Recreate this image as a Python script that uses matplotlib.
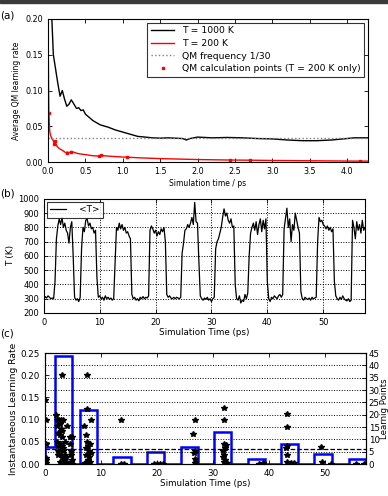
import numpy as np
import matplotlib
matplotlib.use("Agg")
import matplotlib.pyplot as plt
from matplotlib.patches import Rectangle

# ---- (a) average QM learning rate ----
t_hot = [0.02, 0.05, 0.07, 0.10, 0.13, 0.16, 0.19, 0.22, 0.25, 0.28, 0.31, 0.34, 0.38, 0.41,
         0.44, 0.47, 0.50, 0.60, 0.70, 0.80, 0.90, 1.00, 1.10, 1.20, 1.30, 1.40, 1.50, 1.60,
         1.70, 1.80, 1.85, 1.90, 2.00, 2.10, 2.20, 2.40, 2.60, 2.80, 3.00, 3.20, 3.40, 3.60,
         3.80, 3.90, 4.00, 4.10, 4.28]
rate_hot = [0.35, 0.20, 0.15, 0.13, 0.11, 0.092, 0.100, 0.088, 0.078, 0.081, 0.087, 0.082, 0.075, 0.076,
            0.072, 0.073, 0.067, 0.058, 0.052, 0.049, 0.045, 0.042, 0.039, 0.036, 0.035, 0.034, 0.0335, 0.034,
            0.0335, 0.033, 0.031, 0.033, 0.035, 0.0345, 0.034, 0.0345, 0.034, 0.033, 0.0325, 0.031, 0.030, 0.030,
            0.031, 0.032, 0.033, 0.034, 0.034]

t_cold = [0.0, 0.005, 0.01, 0.02, 0.03, 0.05, 0.07, 0.085, 0.09, 0.12, 0.15, 0.20, 0.24, 0.25,
          0.30, 0.31, 0.40, 0.50, 0.60, 0.68, 0.70, 0.80, 1.00, 1.06, 1.20, 1.50, 2.00, 2.43,
          2.70, 3.00, 3.50, 4.00, 4.18, 4.28]
rate_cold = [0.2, 0.12, 0.07, 0.045, 0.038, 0.033, 0.030, 0.025, 0.029, 0.022, 0.019, 0.016, 0.013, 0.014,
             0.0135, 0.015, 0.012, 0.0105, 0.009, 0.0085, 0.0095, 0.0085, 0.0072, 0.007, 0.0062, 0.005, 0.0037, 0.003,
             0.0028, 0.0024, 0.002, 0.0016, 0.0015, 0.0015]

qm_t = [0.01, 0.085, 0.09, 0.25, 0.31, 0.68, 0.71, 1.06, 2.43, 2.70, 4.18]
qm_rate = [0.069, 0.025, 0.029, 0.013, 0.014, 0.0085, 0.0095, 0.007, 0.003, 0.0028, 0.0015]

qm_freq = 1 / 30.

# ---- (b) temperature trace, sampled every 0.25 ps ----
dt = 0.25
temp = [290, 315, 305, 320, 310, 300, 305, 300,
        420, 720, 810, 860, 820, 870, 800, 830, 780, 760, 690, 800, 840, 600,
        310, 290, 300, 280, 310,
        650, 800, 770, 850, 860, 810, 830, 790, 800, 760, 780,
        450, 310, 320, 300, 310, 290, 320, 300, 310, 295, 305, 290, 300,
        560, 800, 780, 830, 790, 820, 780, 800, 760, 770, 740, 720,
        330, 300, 310, 290, 300, 285, 310, 300, 315, 300, 310, 305, 320,
        780, 810, 790, 760, 780, 740, 770, 750, 790, 770, 800, 700,
        330, 310, 320, 305, 300, 310, 300, 310, 305, 300, 310,
        620, 690, 780, 790, 820, 800, 830, 870, 820, 975, 840, 830, 560,
        320, 300, 290, 305, 295, 310, 290, 300, 280, 300, 310,
        650, 700, 720, 760, 800, 870, 930, 880, 900, 850, 830, 860, 800, 810,
        400, 300, 290, 320, 270, 290, 280, 330, 300, 340,
        600, 760, 800, 830, 780, 840, 750, 820, 860, 770, 850, 790, 860,
        420, 300, 280, 310, 300, 320, 310, 300, 320, 330, 310, 330,
        790, 860, 935, 800, 860, 700, 820, 780, 900, 850, 800, 760,
        350, 300, 290, 310, 300, 295, 305, 290, 310, 300, 305, 310,
        700, 870, 840, 850, 820, 810, 790, 810, 780, 800, 770, 790,
        420, 320, 300, 290, 310, 295, 320, 300, 290, 285, 300, 280, 290,
        850, 800, 720, 840, 780, 820, 760, 850, 780, 800]
time_b = np.arange(len(temp)) * dt

# ---- (c) instantaneous learning rate and learning points per interval ----
star_t = [0.0, 0.1, 0.1, 0.1, 0.2, 0.2,
          2.0, 2.1, 2.2, 2.3, 2.2, 2.4, 2.5, 2.3, 2.6, 2.7, 2.8, 2.9, 3.0, 3.1, 3.2, 3.3, 2.9, 3.4,
          3.5, 3.6, 2.6, 2.8, 3.0, 3.3, 3.6, 3.1, 2.4, 2.7, 3.2, 3.5, 4.0, 4.4, 4.5, 4.6, 4.7, 4.8,
          4.8, 4.6, 4.9, 3.8, 3.9, 3.1,
          7.5, 7.0, 7.3, 7.5, 7.7, 8.0, 7.8, 7.3, 7.6, 8.1, 7.2, 7.4, 7.9, 8.2, 7.0, 7.6, 7.5,
          7.5, 8.2, 13.6, 13.6, 14.1, 19.5, 20.0, 20.5, 21.0,
          26.5, 26.7, 26.6, 26.7, 26.8, 26.7, 31.9, 31.9, 32.0, 32.3, 31.8, 32.0, 32.2, 31.9, 32.5,
          32.1, 31.7, 38.2, 39.0, 43.3, 43.3, 43.2, 43.1, 43.3, 43.2, 44.0, 44.5,
          49.2, 49.5, 51.0, 55.5, 57.0]
star_rate = [0.145, 0.10, 0.045, 0.013, 0.008, 0.002,
             0.11, 0.10, 0.085, 0.07, 0.05, 0.04, 0.10, 0.03, 0.095, 0.09, 0.10, 0.08, 0.06, 0.04, 0.10, 0.03, 0.02, 0.01,
             0.005, 0.02, 0.065, 0.045, 0.015, 0.035, 0.0, 0.075, 0.02, 0.005, 0.002, 0.05, 0.085, 0.06, 0.045, 0.03, 0.02, 0.01,
             0.06, 0.005, 0.0, 0.015, 0.003, 0.2,
             0.2, 0.085, 0.065, 0.05, 0.04, 0.045, 0.03, 0.02, 0.01, 0.005, 0.002, 0.035, 0.015, 0.025, 0.0, 0.008, 0.125,
             0.0, 0.10, 0.10, 0.001, 0.001, 0.001, 0.001, 0.001, 0.001,
             0.067, 0.10, 0.025, 0.03, 0.012, 0.003, 0.126, 0.10, 0.045, 0.042, 0.03, 0.02, 0.01, 0.005, 0.002,
             0.035, 0.015, 0.001, 0.002, 0.112, 0.084, 0.04, 0.035, 0.02, 0.005, 0.002, 0.002,
             0.039, 0.005, 0.001, 0.001, 0.001]

bin_edges = [0, 1.8, 4.9, 6.25, 9.35, 12.2, 15.3, 18.2, 21.3, 24.2, 27.3, 30.2, 33.3,
             36.2, 39.3, 42.2, 45.2, 48.1, 51.2, 54.2, 57.3]
learn_points = [7, 44, 0, 22, 0, 3, 0, 5, 0, 7, 0, 13, 0, 2, 0, 8, 0, 4, 0, 2]


fig = plt.figure(figsize=(3.88, 4.96), dpi=100)
fig.patches.append(Rectangle((0, 1 - 3 / 496.), 1, 3 / 496., transform=fig.transFigure,
                             color="#3a3a3a", zorder=10))

def style_ticks(ax, size, right=True):
    ax.tick_params(direction="in", top=True, right=right, labelsize=size, length=3, width=0.6)
    for s in ax.spines.values():
        s.set_linewidth(0.8)

# (a)
ax1 = fig.add_axes([0.124, 0.673, 0.824, 0.289])
ax1.plot(t_hot, rate_hot, color="black", lw=1, label="T = 1000 K")
ax1.plot(t_cold, rate_cold, color="red", lw=1, label="T = 200 K")
ax1.axhline(qm_freq, color="grey", ls=":", lw=1, label="QM frequency 1/30")
ax1.plot(qm_t, qm_rate, "s", color="red", ms=2, mec="red", label="QM calculation points (T = 200 K only)")
ax1.set_xlim(0, 4.28)
ax1.set_ylim(0, 0.2)
ax1.set_xticks(np.arange(0, 4.01, 0.5))
ax1.set_yticks([0, 0.05, 0.1, 0.15, 0.2])
ax1.set_xticklabels(["0.0", "0.5", "1.0", "1.5", "2.0", "2.5", "3.0", "3.5", "4.0"])
ax1.set_yticklabels(["0.00", "0.05", "0.10", "0.15", "0.20"])
style_ticks(ax1, 5.8)
ax1.set_xlabel("Simulation time / ps", fontsize=5.5, labelpad=2)
ax1.set_ylabel("Average QM learning rate", fontsize=5.5, labelpad=3)
leg = ax1.legend(loc="upper right", fontsize=6.7, fancybox=False, edgecolor="black",
                 handlelength=2.5, borderaxespad=0.4, labelspacing=0.4)
leg.get_frame().set_linewidth(0.8)

# (b)
ax2 = fig.add_axes([0.113, 0.369, 0.828, 0.230])
ax2.plot(time_b, temp, color="black", lw=0.9, label="<T>")
ax2.set_xlim(0, 57.5)
ax2.set_ylim(200, 1000)
ax2.set_yticks(np.arange(200, 1001, 100))
ax2.set_xticks([0, 10, 20, 30, 40, 50])
ax2.grid(True, ls=":", color="black", lw=0.7)
style_ticks(ax2, 6.0)
ax2.set_xlabel("Simulation Time (ps)", fontsize=6.3, labelpad=1)
ax2.set_ylabel("T (K)", fontsize=6.5, labelpad=2)
leg2 = ax2.legend(loc="upper left", fontsize=6.5, fancybox=False, edgecolor="black",
                  handlelength=1.8, handletextpad=1.4, borderaxespad=0.3)
leg2.get_frame().set_linewidth(0.8)

# (c)
ax3 = fig.add_axes([0.116, 0.0645, 0.827, 0.2235])
ax4 = ax3.twinx()
ax4.stairs(learn_points, bin_edges, color="blue", lw=1.8, baseline=0)
ax4.set_ylim(0, 45)
ax4.set_yticks(np.arange(0, 46, 5))
ax4.yaxis.grid(True, ls=":", color="black", lw=0.7)
ax4.tick_params(direction="in", labelsize=6.2, length=3, width=0.6, pad=2)
ax4.set_ylabel("Learnig Points", fontsize=6.2, labelpad=0)
ax3.plot(star_t, star_rate, "*", color="black", ms=3.8, zorder=5)
ax3.axhline(qm_freq, color="black", ls="--", lw=0.9)
ax3.set_zorder(ax4.get_zorder() + 1)
ax3.patch.set_visible(False)
ax3.set_xlim(0, 57.3)
ax3.set_ylim(0, 0.25)
ax3.set_yticks([0, 0.05, 0.1, 0.15, 0.2, 0.25])
ax3.set_yticklabels(["0.00", "0.05", "0.10", "0.15", "0.20", "0.25"])
ax3.set_xticks([0, 10, 20, 30, 40, 50])
ax3.tick_params(direction="in", top=True, right=False, labelsize=6.3, length=3, width=0.6)
ax3.set_xlabel("Simulation Time (ps)", fontsize=6.3, labelpad=1)
ax3.set_ylabel("Instantaneous Learning Rate", fontsize=6.6, labelpad=2)

fig.text(0.0, 1 - 15 / 496., "(a)", fontsize=7.5, va="center", ha="left")
fig.text(0.0, 1 - 194 / 496., "(b)", fontsize=7.5, va="center", ha="left")
fig.text(0.0, 1 - 333 / 496., "(c)", fontsize=7.5, va="center", ha="left")

fig.savefig("out.png", dpi=100)
